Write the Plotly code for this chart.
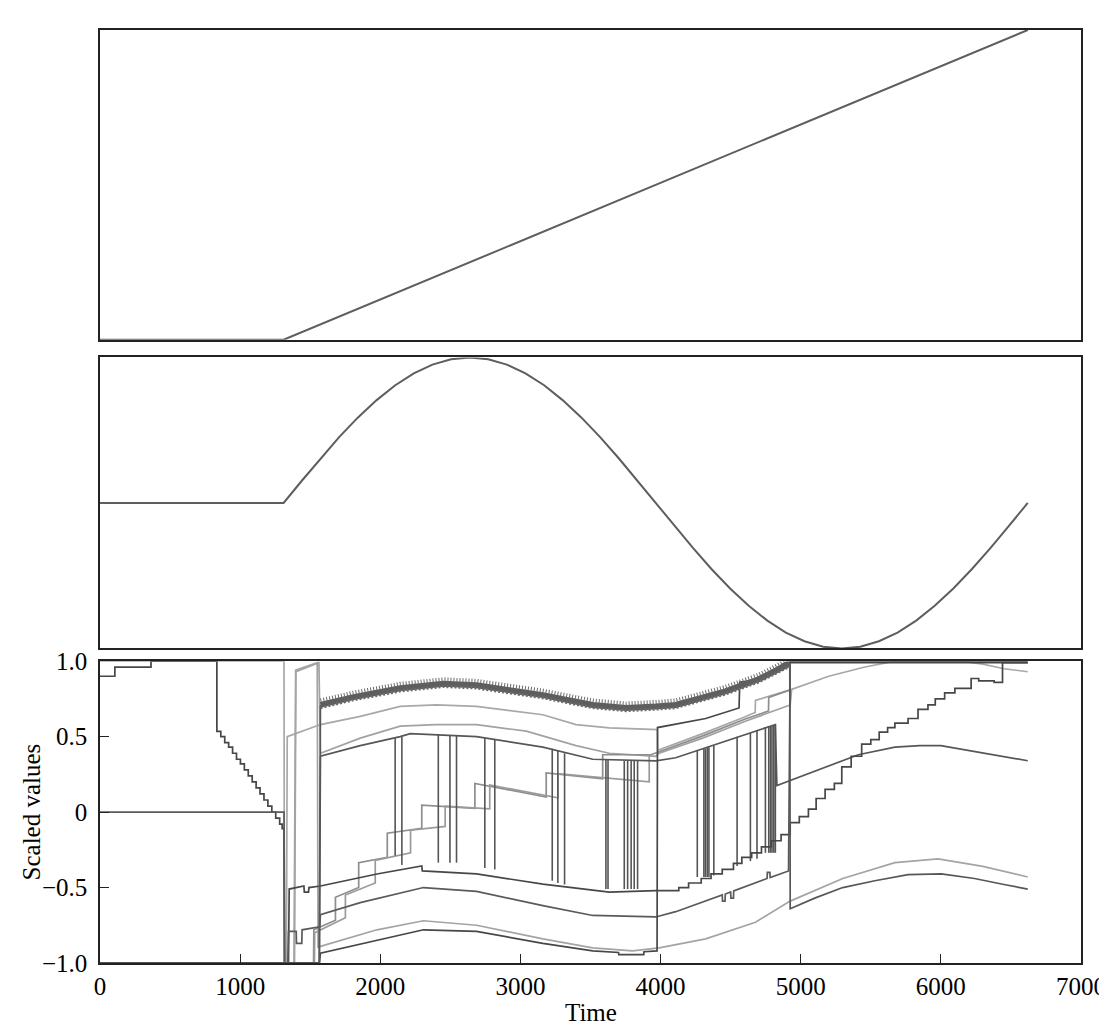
import plotly.graph_objects as go

# ---------------- data ----------------
# Panel 1 : ramp
ramp_t = [0, 1310, 6620]
ramp_v = [0.0, 0.0, 1.0]

# Panel 2 : oscillation (flat then one full period)
osc_t = [0, 1310, 1443, 1576, 1708, 1841, 1974, 2107, 2239, 2372, 2505, 2638, 2770, 2903,
         3036, 3169, 3301, 3434, 3567, 3700, 3832, 3965, 4098, 4231, 4363, 4496, 4629,
         4762, 4894, 5027, 5160, 5293, 5425, 5558, 5691, 5824, 5956, 6089, 6222, 6355,
         6487, 6620]
osc_v = [0.0, 0.0, 0.156, 0.309, 0.454, 0.588, 0.707, 0.809, 0.891, 0.951, 0.988, 1.0,
         0.988, 0.951, 0.891, 0.809, 0.707, 0.588, 0.454, 0.309, 0.156, 0.0, -0.156,
         -0.309, -0.454, -0.588, -0.707, -0.809, -0.891, -0.951, -0.988, -1.0, -0.988,
         -0.951, -0.891, -0.809, -0.707, -0.588, -0.454, -0.309, -0.156, 0.0]

# Panel 3 : scaled values
s1_pre_t = [0, 106, 106, 364, 364, 834]
s1_pre_v = [0.90, 0.90, 0.96, 0.96, 1.00, 1.00]
s1_fall_t = [834, 862, 890, 918, 946, 974, 1002, 1030, 1058, 1086, 1114, 1142, 1170, 1198,
             1226, 1254, 1282, 1300]
s1_fall_v = [0.535, 0.50, 0.46, 0.43, 0.39, 0.35, 0.32, 0.28, 0.24, 0.20, 0.16, 0.12, 0.08,
             0.04, 0.00, -0.04, -0.08, -0.11]
s1_mid_t = [1313, 1316, 1345, 1350, 1455, 1458, 1488, 1491, 1573, 1976, 2296, 2300, 2687,
            3160, 3468, 3634, 3966]
s1_mid_v = [-0.11, -1.00, -1.00, -0.51, -0.49, -0.53, -0.53, -0.50, -0.49, -0.41, -0.357,
            -0.39, -0.41, -0.477, -0.51, -0.53, -0.52]
s1_rise_t = [4000, 4130, 4200, 4290, 4360, 4440, 4520, 4580, 4650, 4720, 4790, 4860, 4925,
             4990, 5055, 5110, 5174, 5240, 5293, 5360, 5435, 5500, 5560, 5620, 5672, 5766,
             5837, 5908, 5960, 6027, 6100, 6216, 6270, 6380, 6440]
s1_rise_v = [-0.52, -0.50, -0.47, -0.44, -0.41, -0.38, -0.34, -0.30, -0.27, -0.23, -0.19,
             -0.15, -0.07, -0.03, 0.02, 0.09, 0.15, 0.19, 0.30, 0.37, 0.45, 0.48, 0.53, 0.56,
             0.59, 0.62, 0.68, 0.71, 0.75, 0.79, 0.82, 0.885, 0.87, 0.86, 0.99]
s1_end_t = 6620

s2_t = [0, 1313, 1316, 1330, 1336, 1573, 1857, 2142, 2402, 2687, 3160, 3397, 3634, 3978,
        3980, 4300, 4600, 4675, 4677, 4925, 5200, 5450, 5672, 6150, 6300, 6450, 6620]
s2_v = [1.0, 1.0, -1.0, -1.0, 0.50, 0.58, 0.634, 0.70, 0.71, 0.70, 0.645, 0.58, 0.558,
        0.547, 0.41, 0.52, 0.63, 0.66, 0.74, 0.81, 0.90, 0.96, 1.0, 1.0, 0.98, 0.95, 0.93]

s3_t = [0, 1388, 1398, 1555, 1562, 1573, 1857, 2142, 2400, 2687, 3042, 3397, 3634, 3966,
        3990, 4300, 4600, 4925, 4935]
s3_v = [-1.0, -1.0, 0.93, 0.99, 0.99, 0.39, 0.49, 0.57, 0.58, 0.58, 0.536, 0.44, 0.39,
        0.37, 0.39, 0.49, 0.60, 0.71, 0.81]

s4_t = [0, 1565, 1573, 1857, 2142, 2213, 2687, 3160, 3516, 3966, 4108, 4819, 4830, 5100,
        5411, 5672, 5850, 6000, 6240, 6450, 6620]
s4_v = [-1.0, -1.0, 0.37, 0.44, 0.50, 0.52, 0.50, 0.43, 0.35, 0.34, 0.36, 0.58, 0.176,
        0.27, 0.38, 0.43, 0.44, 0.44, 0.40, 0.37, 0.34]

spike_t = [2106, 2154, 2414, 2497, 2544, 2746, 2817, 3227, 3267, 3315, 3610, 3625, 3741,
           3765, 3790, 3812, 3836, 4262, 4309, 4320, 4333, 4345, 4380, 4546, 4641, 4688,
           4748, 4772, 4784, 4795, 4808, 4819]
spike_top = [0.49, 0.50, 0.515, 0.51, 0.51, 0.49, 0.48, 0.42, 0.41, 0.39, 0.345, 0.345,
             0.34, 0.34, 0.34, 0.34, 0.34, 0.41, 0.42, 0.42, 0.43, 0.43, 0.44, 0.50, 0.525,
             0.54, 0.56, 0.565, 0.57, 0.57, 0.575, 0.58]
spike_bot = [-0.29, -0.35, -0.335, -0.335, -0.335, -0.37, -0.38, -0.455, -0.47, -0.48,
             -0.51, -0.51, -0.51, -0.51, -0.51, -0.51, -0.51, -0.43, -0.43, -0.43, -0.43,
             -0.43, -0.42, -0.357, -0.325, -0.31, -0.27, -0.27, -0.27, -0.27, -0.27, -0.27]

band_t = [1573, 1800, 2142, 2450, 2687, 3160, 3516, 3753, 3966, 4108, 4463, 4700, 4890, 4922]
band_v = [0.71, 0.76, 0.82, 0.85, 0.84, 0.775, 0.71, 0.69, 0.70, 0.71, 0.80, 0.88, 0.97, 0.98]
s5_pre_t = [0, 1565, 1573]
s5_pre_v = [-1.0, -1.0, 0.71]
s5_post_t = [4922, 4925, 5100, 5300, 5529, 5766, 6003, 6240, 6450, 6620]
s5_post_v = [0.98, -0.64, -0.57, -0.50, -0.455, -0.415, -0.41, -0.44, -0.48, -0.51]

s6a_t = [0, 1524, 1526, 1680, 1680, 1846, 1846, 2050, 2050, 2296, 2296, 2675, 2675, 3184,
         3184, 3587, 3587, 3930, 3990, 4300, 4600, 4770, 4772, 4925]
s6a_v = [-1.0, -1.0, -0.78, -0.717, -0.564, -0.50, -0.335, -0.30, -0.14, -0.107, 0.046,
         0.025, 0.19, 0.10, 0.26, 0.22, 0.38, 0.38, 0.40, 0.505, 0.615, 0.67, 0.76, 0.81]
s6b_t = [0, 1530, 1532, 1751, 1751, 1964, 1964, 2216, 2216, 2463, 2463, 2781, 2781, 3267,
         3267, 3919, 3919, 3935]
s6b_v = [-1.0, -1.0, -0.80, -0.70, -0.55, -0.47, -0.32, -0.27, -0.12, -0.095, 0.04, 0.022,
         0.18, 0.095, 0.255, 0.20, 0.37, 0.38]

s7_t = [0, 1313, 1318, 1340, 1345, 1400, 1402, 1440, 1442, 1568, 1573, 1857, 2308, 2687,
        3160, 3516, 3966, 4108, 4440, 4442, 4460, 4462, 4500, 4502, 4520, 4522, 4760, 4762,
        4780, 4782, 4913, 4925, 6620]
s7_v = [0.0, 0.0, -1.0, -1.0, -0.79, -0.79, -0.87, -0.87, -0.78, -0.76, -0.68, -0.60, -0.50,
        -0.525, -0.62, -0.685, -0.695, -0.66, -0.549, -0.59, -0.59, -0.543, -0.529, -0.57,
        -0.57, -0.522, -0.44, -0.40, -0.40, -0.434, -0.39, 1.0, 1.0]

s8_t = [0, 1384, 1396, 1550, 1556, 1573, 1976, 2308, 2687, 3160, 3516, 3800, 3990, 4322,
        4677, 4925, 5300, 5672, 5980, 6300, 6620]
s8_v = [-1.0, -1.0, 0.94, 0.99, -0.90, -0.89, -0.78, -0.72, -0.75, -0.84, -0.90, -0.92,
        -0.90, -0.84, -0.73, -0.59, -0.44, -0.335, -0.31, -0.36, -0.43]

s9_t = [0, 1565, 1573, 1976, 2308, 2687, 3160, 3516, 3700, 3702, 3880, 3882, 3975, 3978,
        4322, 4560, 4565, 4700, 4890, 6620]
s9_v = [-1.0, -1.0, -0.935, -0.85, -0.78, -0.79, -0.87, -0.92, -0.93, -0.945, -0.945,
        -0.925, -0.92, 0.56, 0.62, 0.69, 0.86, 0.88, 0.99, 0.99]

x_ticks = [0, 1000, 2000, 3000, 4000, 5000, 6000, 7000]
y_ticks = [-1.0, -0.5, 0.0, 0.5, 1.0]
y_tick_text = ["\u22121.0", "\u22120.5", "0", "0.5", "1.0"]


# ---------------- helpers ----------------
def hv(ts, vs, t_end):
    xs, ys = [], []
    for i in range(len(ts)):
        nxt = ts[i + 1] if i + 1 < len(ts) else t_end
        xs += [ts[i], nxt]
        ys += [vs[i], vs[i]]
    return xs, ys


FONT = "Liberation Serif"
FS = 25
DARK = "#474747"
DARK2 = "#575757"
MID = "#8e8e8e"
LIGHT = "#a8a8a8"
BAND_HAIR = 0.03   # style: offset of the textured edge of the noisy band

fig = go.Figure()


def line(x, y, color, width=1.7, axis=3, dash=None):
    fig.add_trace(go.Scatter(
        x=x, y=y, mode="lines", line=dict(color=color, width=width, dash=dash),
        showlegend=False, hoverinfo="skip",
        xaxis="x" if axis == 1 else f"x{axis}",
        yaxis="y" if axis == 1 else f"y{axis}"))


# panel 1 & 2
line(ramp_t, ramp_v, "#5e5e5e", 2, axis=1)
line(osc_t, osc_v, "#5e5e5e", 2, axis=2)

# panel 3
line(s2_t, s2_v, LIGHT)
line(s3_t, s3_v, "#a2a2a2")
line(s8_t, s8_v, "#a4a4a4")
line(s6a_t, s6a_v, MID)
line(s6b_t, s6b_v, "#9a9a9a")
line(s4_t, s4_v, DARK2)

sx, sy = [], []
for t, a, b in zip(spike_t, spike_top, spike_bot):
    sx += [t, t, None]
    sy += [a, b, None]
line(sx, sy, "#555555", 1.6)

fx, fy = hv(s1_fall_t, s1_fall_v, s1_mid_t[0])
rx, ry = hv(s1_rise_t, s1_rise_v, s1_end_t)
line(s1_pre_t + fx + s1_mid_t + rx, s1_pre_v + fy + s1_mid_v + ry, DARK)
line(s7_t, s7_v, "#5a5a5a")
line(s9_t, s9_v, DARK)
line(s5_pre_t, s5_pre_v, DARK2)
line(s5_post_t, s5_post_v, DARK2)
# noisy band: solid core plus a textured (dotted) upper edge
line(band_t, band_v, "#5e5e5e", 6)
line(band_t, [v + BAND_HAIR for v in band_v], "#6a6a6a", 4, dash="1px,2px")
line(band_t, [v - BAND_HAIR * 0.6 for v in band_v], "#6a6a6a", 3, dash="2px,2px")

frame = dict(showline=True, mirror=True, linecolor="#222222", linewidth=1.5,
             showgrid=False, zeroline=False)

fig.update_layout(
    width=1107, height=1024,
    margin=dict(l=92, r=30, t=9, b=69),
    paper_bgcolor="white", plot_bgcolor="white",
    font=dict(family=FONT, size=FS, color="black"),
    xaxis=dict(domain=[0, 1], range=[0, 7000], anchor="y", showticklabels=False,
               ticks="", **frame),
    yaxis=dict(domain=[0.668, 1.0], range=[0, 1], anchor="x", showticklabels=False,
               ticks="", **frame),
    xaxis2=dict(domain=[0, 1], range=[0, 7000], anchor="y2", showticklabels=False,
                ticks="", **frame),
    yaxis2=dict(domain=[0.3372, 0.649], range=[-1, 1], anchor="x2",
                showticklabels=False, ticks="", **frame),
    xaxis3=dict(domain=[0, 1], range=[0, 7000], anchor="y3", tickmode="array",
                tickvals=x_ticks, ticks="inside", ticklen=9, tickwidth=1.3,
                tickcolor="#222222", tickfont=dict(family=FONT, size=FS, color="black"),
                **frame),
    yaxis3=dict(domain=[0, 0.3235], range=[-1, 1], anchor="x3", tickmode="array",
                tickvals=y_ticks, ticktext=y_tick_text, ticks="inside", ticklen=9,
                tickwidth=1.3, tickcolor="#222222", ticklabelstandoff=6,
                tickfont=dict(family=FONT, size=FS, color="black"), **frame),
    annotations=[
        dict(text="Time", xref="paper", yref="paper", x=0.5, y=-0.0535,
             xanchor="center", yanchor="middle", showarrow=False,
             font=dict(family=FONT, size=FS, color="black")),
        dict(text="Scaled values", xref="paper", yref="paper", x=-0.070, y=0.16175,
             xanchor="center", yanchor="middle", textangle=-90, showarrow=False,
             font=dict(family=FONT, size=FS, color="black")),
    ],
)

fig.write_html("out.html")
